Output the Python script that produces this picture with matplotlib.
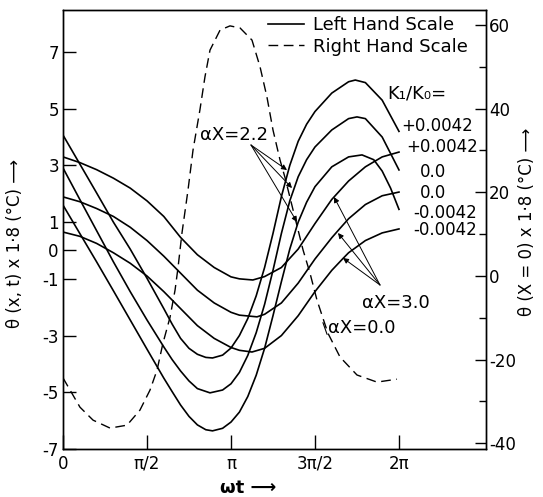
import numpy as np
import matplotlib
matplotlib.use("Agg")
import matplotlib.pyplot as plt
from matplotlib.lines import Line2D

plt.rcParams['font.family'] = ['DejaVu Sans']

# ---------------- data (omega*t in units of pi) ----------------
# alpha X = 2.2, K1/K0 = +0.0042, 0.0, -0.0042 (left hand scale)
tA1 = [0, .1, .2, .3, .4, .5, .6, .65, .7, .75, .8, .85, .89, .95, 1.0, 1.05, 1.1, 1.15, 1.2, 1.25,
       1.3, 1.35, 1.4, 1.45, 1.5, 1.6, 1.7, 1.74, 1.8, 1.9, 2.0]
A1 = [4.07, 3.05, 2.03, 1.0, 0.05, -0.98, -2.05, -2.6, -3.1, -3.45, -3.66, -3.77, -3.79, -3.69, -3.44, -3.0,
      -2.4, -1.6, -0.6, 0.6, 1.9, 3.0, 3.85, 4.45, 4.9, 5.55, 5.95, 6.01, 5.92, 5.3, 4.2]
tA2 = [0, .1, .2, .3, .4, .5, .6, .65, .7, .75, .8, .875, .95, 1.0, 1.05, 1.1, 1.15, 1.2, 1.25,
       1.3, 1.35, 1.4, 1.45, 1.5, 1.6, 1.7, 1.75, 1.8, 1.9, 2.0]
A2 = [2.91, 1.8, 0.7, -0.4, -1.45, -2.45, -3.4, -3.85, -4.25, -4.6, -4.87, -5.02, -4.92, -4.7, -4.3,
      -3.7, -2.9, -1.9, -0.7, 0.6, 1.75, 2.6, 3.2, 3.65, 4.25, 4.65, 4.71, 4.65, 4.0, 2.84]
tA3 = [0, .1, .2, .3, .4, .5, .6, .65, .7, .75, .8, .85, .89, .95, 1.0, 1.05, 1.1, 1.15, 1.2, 1.25,
       1.3, 1.35, 1.4, 1.45, 1.5, 1.6, 1.7, 1.78, 1.85, 1.9, 1.95, 2.0]
A3 = [1.60, 0.6, -0.4, -1.42, -2.45, -3.48, -4.5, -4.98, -5.45, -5.85, -6.15, -6.32, -6.36, -6.27, -6.05,
      -5.7, -5.15, -4.4, -3.45, -2.3, -1.1, 0.05, 1.0, 1.7, 2.25, 2.95, 3.3, 3.37, 3.2, 2.8, 2.2, 1.45]

# alpha X = 3.0, K1/K0 = +0.0042, 0.0, -0.0042 (left hand scale)
tB1 = [0, .1, .2, .3, .4, .5, .6, .7, .8, .9, 1.0, 1.05, 1.13, 1.2, 1.3, 1.4, 1.5, 1.6,
       1.7, 1.8, 1.9, 2.0]
B1 = [3.30, 3.1, 2.85, 2.55, 2.2, 1.75, 1.2, 0.46, -0.15, -0.6, -0.93, -1.0, -1.04, -0.92, -0.6,
      0.05, 0.95, 1.8, 2.45, 2.95, 3.3, 3.47]
tB2 = [0, .1, .2, .3, .4, .5, .6, .7, .8, .9, 1.0, 1.05, 1.155, 1.2, 1.3, 1.4, 1.5, 1.6, 1.64, 1.7,
       1.8, 1.9, 2.0]
B2 = [1.89, 1.72, 1.48, 1.2, 0.82, 0.35, -0.2, -0.8, -1.4, -1.85, -2.18, -2.28, -2.34, -2.25, -1.85,
      -1.15, -0.3, 0.45, 0.72, 1.12, 1.62, 1.93, 2.06]
tB3 = [0, .1, .2, .3, .4, .5, .6, .7, .8, .9, 1.0, 1.05, 1.125, 1.2, 1.3, 1.4, 1.5, 1.6, 1.667, 1.7,
       1.8, 1.9, 2.0]
B3 = [0.65, 0.5, 0.25, -0.08, -0.45, -0.9, -1.45, -2.05, -2.65, -3.1, -3.42, -3.52, -3.58, -3.45, -3.0,
      -2.3, -1.45, -0.7, -0.28, -0.08, 0.35, 0.62, 0.76]

# alpha X = 0.0 (surface), right hand scale
tS = [0, 0.101, 0.179, 0.280, 0.381, 0.458, 0.518, 0.560, 0.595, 0.637, 0.667, 0.685, 0.708, 0.744,
      0.774, 0.815, 0.845, 0.875, 0.935, 0.994, 1.054, 1.125, 1.173, 1.214, 1.250, 1.292, 1.321,
      1.429, 1.470, 1.512, 1.577, 1.649, 1.750, 1.869, 1.988]
S = [-24.4, -31.4, -34.5, -36.4, -35.7, -32.1, -27.3, -22.5, -16.1, -9.9, -3.4, 2.1, 10.2, 20.5,
     30.1, 39.7, 47.6, 54.0, 58.8, 59.8, 59.3, 56.4, 50.0, 42.8, 34.9, 27.7, 23.6,
     6.2, 0.7, -5.8, -13.7, -19.4, -23.7, -25.4, -24.7]

left_ticks = [7, 5, 3, 1, 0, -1, -3, -5, -7]
right_major = [60, 40, 20, 0, -20, -40]
right_minor = [50, 30, 10, -10, -30]
x_ticks = [0, 0.5, 1.0, 1.5, 2.0]
x_ticklabels = ['0', 'π/2', 'π', '3π/2', '2π']
k_labels = ['+0.0042', '+0.0042', '0.0', '0.0', '-0.0042', '-0.0042']

# ---------------- figure ----------------
W, H = 543, 497
fig = plt.figure(figsize=(W / 100, H / 100), dpi=100)
L, R, T, B = 63, 486, 10, 449
ax = fig.add_axes([L / W, 1 - B / H, (R - L) / W, (B - T) / H])


def P(px, py):
    """pixel position -> axes fraction (annotation layout only)"""
    return ((px - L) / (R - L), (B - py) / (B - T))


lw = 1.2
for t, v in [(tA1, A1), (tA2, A2), (tA3, A3), (tB1, B1), (tB2, B2), (tB3, B3)]:
    ax.plot(np.array(t) * np.pi, v, color='black', lw=lw, solid_joinstyle='round')

ax.set_xlim(0, 2.518 * np.pi)
ax.set_ylim(-7, 8.48)

ax2 = ax.twinx()
ax2.plot(np.array(tS) * np.pi, S, color='black', lw=1.0, dashes=(7, 4))
ax2.set_ylim(-41.4, 63.6)

fs = 12
ax.set_yticks(left_ticks)
ax.set_yticklabels([str(v) for v in left_ticks])
ax.set_xticks(np.array(x_ticks) * np.pi)
ax.set_xticklabels(x_ticklabels)
ax.tick_params(axis='y', direction='in', length=9, width=1, labelsize=fs, pad=3)
ax.tick_params(axis='x', direction='in', length=10, width=1, labelsize=fs, pad=4)
ax2.set_yticks(right_major)
ax2.set_yticks(right_minor, minor=True)
ax2.set_yticklabels([str(v) for v in right_major])
ax2.tick_params(axis='y', which='major', direction='in', length=8, width=1, labelsize=fs, pad=2)
ax2.tick_params(axis='y', which='minor', direction='in', length=5, width=1)
for a in (ax, ax2):
    for s in a.spines.values():
        s.set_linewidth(1.0)

# axis labels
ax.text(*P(15, 243), 'θ (x, t) x 1·8 (°C) ⟶', transform=ax.transAxes, rotation=90,
        ha='center', va='center', fontsize=fs)
ax.text(*P(527, 222), 'θ (X = 0) x 1·8 (°C) ⟶', transform=ax.transAxes, rotation=90,
        ha='center', va='center', fontsize=fs)
ax.text(*P(248, 488), 'ωt ⟶', transform=ax.transAxes, ha='center', va='center',
        fontsize=fs + 1, fontweight='bold')

# legend
fl = 13
handles = [Line2D([], [], color='black', lw=1.2),
           Line2D([], [], color='black', lw=1.0, dashes=(7, 4))]
ax.legend(handles, ['Left Hand Scale', 'Right Hand Scale'], loc='upper left',
          bbox_to_anchor=P(268, 16), frameon=False, fontsize=fl, handlelength=2.0,
          handletextpad=0.5, labelspacing=0.2, borderpad=0, borderaxespad=0)

# K1/K0 labels
ax.text(*P(417, 93), 'K₁/K₀=', transform=ax.transAxes, ha='center', va='center', fontsize=fl)
for (cx, cy), lab in zip([(437, 126), (442, 147), (433, 172), (433, 193), (445, 213), (445, 230)], k_labels):
    ax.text(*P(cx, cy), lab, transform=ax.transAxes, ha='center', va='center', fontsize=fs)

# alpha X annotations
ax.text(*P(234, 135), 'αX=2.2', transform=ax.transAxes, ha='center', va='center', fontsize=fl)
ax.text(*P(396, 303), 'αX=3.0', transform=ax.transAxes, ha='center', va='center', fontsize=fl)
ax.text(*P(362, 328), 'αX=0.0', transform=ax.transAxes, ha='center', va='center', fontsize=fl)

ap = dict(arrowstyle='-|>', lw=0.7, color='black', mutation_scale=8, shrinkA=0, shrinkB=0)
for tip in [(287, 170), (292, 188), (297, 222)]:
    ax.annotate('', xy=P(*tip), xycoords='axes fraction', xytext=P(251, 145),
                textcoords='axes fraction', arrowprops=ap)
for tip in [(334, 197), (338, 233), (343, 258)]:
    ax.annotate('', xy=P(*tip), xycoords='axes fraction', xytext=P(380, 285),
                textcoords='axes fraction', arrowprops=ap)
ax.annotate('', xy=P(322, 320), xycoords='axes fraction', xytext=P(328, 337),
            textcoords='axes fraction', arrowprops=dict(arrowstyle='-', lw=0.8, color='black'))

fig.savefig('out.png', dpi=100)
